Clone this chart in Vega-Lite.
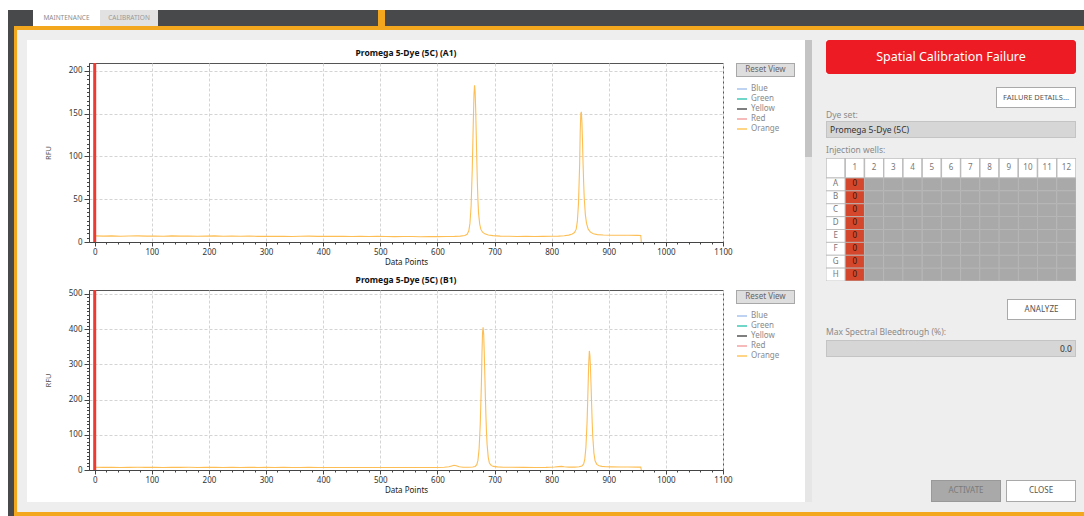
{
"$schema": "https://vega.github.io/schema/vega-lite/v6.json",
"padding": {"left": 8, "top": 10, "right": 0, "bottom": 0},
"background": "#ffffff",
"config": {"font": "Noto Sans", "view": {"stroke": null}, "concat": {"spacing": 0}},
"data": {"values": [{"k": 1}]},
"datasets": {
"a1": [{"dp":0,"rfu":7.2},{"dp":15,"rfu":6.9},{"dp":30,"rfu":7.1},{"dp":45,"rfu":6.8},{"dp":60,"rfu":7.0},{"dp":75,"rfu":7.2},{"dp":90,"rfu":6.9},{"dp":105,"rfu":7.0},{"dp":120,"rfu":6.8},{"dp":135,"rfu":7.1},{"dp":150,"rfu":6.9},{"dp":165,"rfu":7.0},{"dp":180,"rfu":6.7},{"dp":195,"rfu":6.9},{"dp":210,"rfu":7.1},{"dp":225,"rfu":6.8},{"dp":240,"rfu":6.9},{"dp":255,"rfu":6.7},{"dp":270,"rfu":6.9},{"dp":285,"rfu":6.6},{"dp":300,"rfu":6.8},{"dp":315,"rfu":6.6},{"dp":330,"rfu":6.8},{"dp":345,"rfu":6.5},{"dp":360,"rfu":6.7},{"dp":375,"rfu":6.9},{"dp":390,"rfu":6.6},{"dp":405,"rfu":6.8},{"dp":420,"rfu":6.6},{"dp":435,"rfu":6.7},{"dp":450,"rfu":6.5},{"dp":465,"rfu":6.7},{"dp":480,"rfu":6.4},{"dp":495,"rfu":6.6},{"dp":510,"rfu":6.5},{"dp":525,"rfu":6.3},{"dp":540,"rfu":6.5},{"dp":555,"rfu":6.4},{"dp":570,"rfu":6.2},{"dp":585,"rfu":6.4},{"dp":600,"rfu":6.3},{"dp":615,"rfu":6.5},{"dp":630,"rfu":6.6},{"dp":640,"rfu":6.9},{"dp":648,"rfu":7.6},{"dp":652,"rfu":9},{"dp":655,"rfu":13},{"dp":657,"rfu":22},{"dp":659,"rfu":42},{"dp":661,"rfu":85},{"dp":663,"rfu":145},{"dp":664,"rfu":172},{"dp":665,"rfu":183},{"dp":666,"rfu":176},{"dp":667,"rfu":155},{"dp":668,"rfu":125},{"dp":669,"rfu":95},{"dp":670,"rfu":68},{"dp":671,"rfu":48},{"dp":672,"rfu":34},{"dp":674,"rfu":21},{"dp":676,"rfu":15},{"dp":679,"rfu":11.5},{"dp":683,"rfu":9.5},{"dp":689,"rfu":8.2},{"dp":697,"rfu":7.4},{"dp":710,"rfu":6.9},{"dp":725,"rfu":6.7},{"dp":740,"rfu":6.5},{"dp":755,"rfu":6.6},{"dp":770,"rfu":6.4},{"dp":785,"rfu":6.6},{"dp":800,"rfu":6.7},{"dp":812,"rfu":6.9},{"dp":822,"rfu":7.3},{"dp":830,"rfu":8},{"dp":836,"rfu":9.3},{"dp":840,"rfu":11},{"dp":843,"rfu":15},{"dp":845,"rfu":24},{"dp":847,"rfu":45},{"dp":849,"rfu":90},{"dp":850,"rfu":128},{"dp":851,"rfu":150},{"dp":852,"rfu":152},{"dp":853,"rfu":140},{"dp":854,"rfu":118},{"dp":855,"rfu":92},{"dp":856,"rfu":70},{"dp":857,"rfu":52},{"dp":859,"rfu":32},{"dp":861,"rfu":22},{"dp":864,"rfu":15},{"dp":868,"rfu":11.5},{"dp":873,"rfu":9.6},{"dp":880,"rfu":8.6},{"dp":890,"rfu":8.1},{"dp":905,"rfu":7.9},{"dp":920,"rfu":7.8},{"dp":935,"rfu":7.9},{"dp":950,"rfu":7.7},{"dp":956,"rfu":7.6},{"dp":957,"rfu":0}],
"b1": [{"dp":0,"rfu":7.6},{"dp":15,"rfu":7.4},{"dp":30,"rfu":7.5},{"dp":45,"rfu":7.3},{"dp":60,"rfu":7.5},{"dp":75,"rfu":7.6},{"dp":90,"rfu":7.4},{"dp":105,"rfu":7.5},{"dp":120,"rfu":7.3},{"dp":135,"rfu":7.5},{"dp":150,"rfu":7.4},{"dp":165,"rfu":7.6},{"dp":180,"rfu":7.3},{"dp":195,"rfu":7.4},{"dp":210,"rfu":7.5},{"dp":225,"rfu":7.3},{"dp":240,"rfu":7.4},{"dp":255,"rfu":7.2},{"dp":270,"rfu":7.4},{"dp":285,"rfu":7.3},{"dp":300,"rfu":7.4},{"dp":315,"rfu":7.2},{"dp":330,"rfu":7.4},{"dp":345,"rfu":7.3},{"dp":360,"rfu":7.2},{"dp":375,"rfu":7.4},{"dp":390,"rfu":7.3},{"dp":405,"rfu":7.2},{"dp":420,"rfu":7.3},{"dp":435,"rfu":7.2},{"dp":450,"rfu":7.3},{"dp":465,"rfu":7.1},{"dp":480,"rfu":7.2},{"dp":495,"rfu":7.3},{"dp":510,"rfu":7.1},{"dp":525,"rfu":7.2},{"dp":540,"rfu":7.1},{"dp":555,"rfu":7.2},{"dp":570,"rfu":7.1},{"dp":585,"rfu":7.2},{"dp":600,"rfu":7.3},{"dp":612,"rfu":7.8},{"dp":620,"rfu":9},{"dp":625,"rfu":11.5},{"dp":629,"rfu":13.5},{"dp":633,"rfu":12},{"dp":638,"rfu":9},{"dp":645,"rfu":7.8},{"dp":655,"rfu":7.6},{"dp":662,"rfu":8.3},{"dp":666,"rfu":10},{"dp":669,"rfu":15},{"dp":671,"rfu":28},{"dp":673,"rfu":60},{"dp":675,"rfu":130},{"dp":677,"rfu":245},{"dp":678,"rfu":330},{"dp":679,"rfu":390},{"dp":680,"rfu":405},{"dp":681,"rfu":385},{"dp":682,"rfu":335},{"dp":683,"rfu":270},{"dp":684,"rfu":205},{"dp":685,"rfu":150},{"dp":686,"rfu":105},{"dp":687,"rfu":72},{"dp":689,"rfu":36},{"dp":691,"rfu":20},{"dp":694,"rfu":13},{"dp":698,"rfu":10.2},{"dp":705,"rfu":8.8},{"dp":715,"rfu":8},{"dp":730,"rfu":7.6},{"dp":750,"rfu":7.4},{"dp":770,"rfu":7.3},{"dp":790,"rfu":7.5},{"dp":805,"rfu":8.3},{"dp":812,"rfu":9.6},{"dp":817,"rfu":10.2},{"dp":822,"rfu":9.2},{"dp":830,"rfu":8.3},{"dp":840,"rfu":8.2},{"dp":848,"rfu":9.2},{"dp":853,"rfu":11.5},{"dp":856,"rfu":17},{"dp":858,"rfu":30},{"dp":860,"rfu":65},{"dp":862,"rfu":135},{"dp":863,"rfu":190},{"dp":864,"rfu":250},{"dp":865,"rfu":305},{"dp":866,"rfu":338},{"dp":867,"rfu":325},{"dp":868,"rfu":290},{"dp":869,"rfu":240},{"dp":870,"rfu":185},{"dp":871,"rfu":135},{"dp":872,"rfu":95},{"dp":874,"rfu":48},{"dp":876,"rfu":26},{"dp":879,"rfu":16},{"dp":883,"rfu":12},{"dp":888,"rfu":10.3},{"dp":895,"rfu":9.4},{"dp":905,"rfu":8.9},{"dp":920,"rfu":8.5},{"dp":935,"rfu":8.4},{"dp":950,"rfu":8.3},{"dp":956,"rfu":8.2},{"dp":957,"rfu":0}],
"dyes": [{"dye":"Blue"},{"dye":"Green"},{"dye":"Yellow"},{"dye":"Red"},{"dye":"Orange"}],
"hdr": [{"r":"h","col":"0","t":""},{"r":"h","col":"1","t":"1"},{"r":"h","col":"2","t":"2"},{"r":"h","col":"3","t":"3"},{"r":"h","col":"4","t":"4"},{"r":"h","col":"5","t":"5"},{"r":"h","col":"6","t":"6"},{"r":"h","col":"7","t":"7"},{"r":"h","col":"8","t":"8"},{"r":"h","col":"9","t":"9"},{"r":"h","col":"10","t":"10"},{"r":"h","col":"11","t":"11"},{"r":"h","col":"12","t":"12"}],
"wells": [
{"row":"A","col":"0","kind":"lbl","t":"A"},{"row":"A","col":"1","kind":"fail","t":"0"},{"row":"A","col":"2","kind":"none","t":""},{"row":"A","col":"3","kind":"none","t":""},{"row":"A","col":"4","kind":"none","t":""},{"row":"A","col":"5","kind":"none","t":""},{"row":"A","col":"6","kind":"none","t":""},{"row":"A","col":"7","kind":"none","t":""},{"row":"A","col":"8","kind":"none","t":""},{"row":"A","col":"9","kind":"none","t":""},{"row":"A","col":"10","kind":"none","t":""},{"row":"A","col":"11","kind":"none","t":""},{"row":"A","col":"12","kind":"none","t":""},
{"row":"B","col":"0","kind":"lbl","t":"B"},{"row":"B","col":"1","kind":"fail","t":"0"},{"row":"B","col":"2","kind":"none","t":""},{"row":"B","col":"3","kind":"none","t":""},{"row":"B","col":"4","kind":"none","t":""},{"row":"B","col":"5","kind":"none","t":""},{"row":"B","col":"6","kind":"none","t":""},{"row":"B","col":"7","kind":"none","t":""},{"row":"B","col":"8","kind":"none","t":""},{"row":"B","col":"9","kind":"none","t":""},{"row":"B","col":"10","kind":"none","t":""},{"row":"B","col":"11","kind":"none","t":""},{"row":"B","col":"12","kind":"none","t":""},
{"row":"C","col":"0","kind":"lbl","t":"C"},{"row":"C","col":"1","kind":"fail","t":"0"},{"row":"C","col":"2","kind":"none","t":""},{"row":"C","col":"3","kind":"none","t":""},{"row":"C","col":"4","kind":"none","t":""},{"row":"C","col":"5","kind":"none","t":""},{"row":"C","col":"6","kind":"none","t":""},{"row":"C","col":"7","kind":"none","t":""},{"row":"C","col":"8","kind":"none","t":""},{"row":"C","col":"9","kind":"none","t":""},{"row":"C","col":"10","kind":"none","t":""},{"row":"C","col":"11","kind":"none","t":""},{"row":"C","col":"12","kind":"none","t":""},
{"row":"D","col":"0","kind":"lbl","t":"D"},{"row":"D","col":"1","kind":"fail","t":"0"},{"row":"D","col":"2","kind":"none","t":""},{"row":"D","col":"3","kind":"none","t":""},{"row":"D","col":"4","kind":"none","t":""},{"row":"D","col":"5","kind":"none","t":""},{"row":"D","col":"6","kind":"none","t":""},{"row":"D","col":"7","kind":"none","t":""},{"row":"D","col":"8","kind":"none","t":""},{"row":"D","col":"9","kind":"none","t":""},{"row":"D","col":"10","kind":"none","t":""},{"row":"D","col":"11","kind":"none","t":""},{"row":"D","col":"12","kind":"none","t":""},
{"row":"E","col":"0","kind":"lbl","t":"E"},{"row":"E","col":"1","kind":"fail","t":"0"},{"row":"E","col":"2","kind":"none","t":""},{"row":"E","col":"3","kind":"none","t":""},{"row":"E","col":"4","kind":"none","t":""},{"row":"E","col":"5","kind":"none","t":""},{"row":"E","col":"6","kind":"none","t":""},{"row":"E","col":"7","kind":"none","t":""},{"row":"E","col":"8","kind":"none","t":""},{"row":"E","col":"9","kind":"none","t":""},{"row":"E","col":"10","kind":"none","t":""},{"row":"E","col":"11","kind":"none","t":""},{"row":"E","col":"12","kind":"none","t":""},
{"row":"F","col":"0","kind":"lbl","t":"F"},{"row":"F","col":"1","kind":"fail","t":"0"},{"row":"F","col":"2","kind":"none","t":""},{"row":"F","col":"3","kind":"none","t":""},{"row":"F","col":"4","kind":"none","t":""},{"row":"F","col":"5","kind":"none","t":""},{"row":"F","col":"6","kind":"none","t":""},{"row":"F","col":"7","kind":"none","t":""},{"row":"F","col":"8","kind":"none","t":""},{"row":"F","col":"9","kind":"none","t":""},{"row":"F","col":"10","kind":"none","t":""},{"row":"F","col":"11","kind":"none","t":""},{"row":"F","col":"12","kind":"none","t":""},
{"row":"G","col":"0","kind":"lbl","t":"G"},{"row":"G","col":"1","kind":"fail","t":"0"},{"row":"G","col":"2","kind":"none","t":""},{"row":"G","col":"3","kind":"none","t":""},{"row":"G","col":"4","kind":"none","t":""},{"row":"G","col":"5","kind":"none","t":""},{"row":"G","col":"6","kind":"none","t":""},{"row":"G","col":"7","kind":"none","t":""},{"row":"G","col":"8","kind":"none","t":""},{"row":"G","col":"9","kind":"none","t":""},{"row":"G","col":"10","kind":"none","t":""},{"row":"G","col":"11","kind":"none","t":""},{"row":"G","col":"12","kind":"none","t":""},
{"row":"H","col":"0","kind":"lbl","t":"H"},{"row":"H","col":"1","kind":"fail","t":"0"},{"row":"H","col":"2","kind":"none","t":""},{"row":"H","col":"3","kind":"none","t":""},{"row":"H","col":"4","kind":"none","t":""},{"row":"H","col":"5","kind":"none","t":""},{"row":"H","col":"6","kind":"none","t":""},{"row":"H","col":"7","kind":"none","t":""},{"row":"H","col":"8","kind":"none","t":""},{"row":"H","col":"9","kind":"none","t":""},{"row":"H","col":"10","kind":"none","t":""},{"row":"H","col":"11","kind":"none","t":""},{"row":"H","col":"12","kind":"none","t":""}
]
},
"spacing": 0,
"resolve": {"scale": {"color": "independent", "fill": "independent"}, "legend": {"color": "independent", "fill": "independent"}},
"vconcat": [
{"spacing": 0, "hconcat": [
 {"width": 25, "height": 16, "view": {"fill": "#48494a"}, "mark": {"type": "text", "text": "", "fontSize": 0}, "encoding": {}},
 {"width": 67, "height": 16, "view": {"fill": "#ffffff"}, "mark": {"type": "text", "text": "MAINTENANCE", "fontSize": 6.5, "color": "#8c8c8c"}, "encoding": {}},
 {"width": 58, "height": 16, "view": {"fill": "#e2e2e2"}, "mark": {"type": "text", "text": "CALIBRATION", "fontSize": 6.5, "color": "#999999"}, "encoding": {}},
 {"width": 220, "height": 16, "view": {"fill": "#48494a"}, "mark": {"type": "text", "text": "", "fontSize": 0}, "encoding": {}},
 {"width": 7, "height": 16, "view": {"fill": "#f3a71f"}, "mark": {"type": "text", "text": "", "fontSize": 0}, "encoding": {}},
 {"width": 699, "height": 16, "view": {"fill": "#48494a"}, "mark": {"type": "text", "text": "", "fontSize": 0}, "encoding": {}}
]},
{"spacing": 0, "resolve": {"scale": {"color": "independent", "fill": "independent"}, "legend": {"color": "independent", "fill": "independent"}}, "hconcat": [
 {"width": 6, "height": 490, "view": {"fill": "#48494a"}, "mark": {"type": "text", "text": "", "fontSize": 0}, "encoding": {}},
 {"width": 3, "height": 490, "view": {"fill": "#f3a71f"}, "mark": {"type": "text", "text": "", "fontSize": 0}, "encoding": {}},
 {"spacing": 0, "resolve": {"scale": {"color": "independent", "fill": "independent"}, "legend": {"color": "independent", "fill": "independent"}}, "vconcat": [
  {"width": 1067, "height": 4, "view": {"fill": "#f3a71f"}, "mark": {"type": "text", "text": "", "fontSize": 0}, "encoding": {}},
  {"spacing": 0, "resolve": {"scale": {"color": "independent", "fill": "independent"}, "legend": {"color": "independent", "fill": "independent"}}, "hconcat": [
   {"width": 10, "height": 482, "view": {"fill": "#eeeeee"}, "mark": {"type": "text", "text": "", "fontSize": 0}, "encoding": {}},
   {"spacing": 0, "resolve": {"scale": {"color": "independent"}, "legend": {"color": "independent"}}, "vconcat": [
    {"width": 778, "height": 10, "view": {"fill": "#eeeeee"}, "mark": {"type": "text", "text": "", "fontSize": 0}, "encoding": {}},
    {"spacing": 0, "resolve": {"scale": {"color": "independent"}, "legend": {"color": "independent"}}, "hconcat": [
     {"width": 16, "height": 462, "mark": {"type": "text", "text": "", "fontSize": 0}, "encoding": {}},
     {"spacing": 0, "resolve": {"scale": {"color": "independent"}, "legend": {"color": "independent"}}, "vconcat": [
      {"width": 1, "height": 8, "mark": {"type": "text", "text": "", "fontSize": 0}, "encoding": {}},
      {"spacing": 0, "resolve": {"scale": {"color": "independent"}, "legend": {"color": "independent"}}, "hconcat": [
       {"width": 634, "height": 179, "view": {"stroke": "#555555"},
        "title": {"text": "Promega 5-Dye (5C) (A1)", "fontSize": 8.5, "fontWeight": "bold", "color": "#111111", "offset": 4, "anchor": "middle", "frame": "group"},
        "data": {"name": "a1"},
        "layer": [
         {"mark": {"type": "line", "color": "#fdbf55", "strokeWidth": 1.1},
          "encoding": {
           "x": {"field": "dp", "type": "quantitative", "scale": {"domain": [-10, 1100], "nice": false, "zero": false},
                 "axis": {"values": [0,100,200,300,400,500,600,700,800,900,1000,1100], "format": "d", "title": "Data Points", "titleFontSize": 8, "titleFontWeight": "normal", "titleColor": "#222222", "titlePadding": 2, "labelFontSize": 8, "labelColor": "#333333", "labelPadding": 2, "labelFlush": false, "labelOverlap": false, "tickSize": 4, "tickColor": "#444444", "domainColor": "#444444", "grid": true, "gridColor": "#d4d4d4", "gridDash": [3, 2]}},
           "y": {"field": "rfu", "type": "quantitative", "scale": {"domain": [0, 209], "nice": false},
                 "axis": {"values": [0,50,100,150,200], "title": "RFU", "titleFontSize": 7.5, "titleFontWeight": "normal", "titleColor": "#555555", "titlePadding": 16, "labelFontSize": 8, "labelColor": "#333333", "labelPadding": 2, "labelOverlap": false, "tickSize": 5, "tickColor": "#444444", "domainColor": "#444444", "grid": true, "gridColor": "#d4d4d4", "gridDash": [3, 2]}}}},
         {"mark": {"type": "line", "opacity": 0},
          "encoding": {
           "x": {"field": "dp", "type": "quantitative", "axis": {"orient": "bottom", "values": [20,40,60,80,120,140,160,180,220,240,260,280,320,340,360,380,420,440,460,480,520,540,560,580,620,640,660,680,720,740,760,780,820,840,860,880,920,940,960,980,1020,1040,1060,1080], "labels": false, "title": null, "domain": false, "grid": false, "tickSize": 2, "tickColor": "#444444"}},
           "y": {"field": "rfu", "type": "quantitative", "axis": {"orient": "left", "values": [5,10,15,20,25,30,35,40,45,55,60,65,70,75,80,85,90,95,105,110,115,120,125,130,135,140,145,155,160,165,170,175,180,185,190,195,205], "labels": false, "title": null, "domain": false, "grid": false, "tickSize": 2.5, "tickColor": "#444444"}}}},
         {"data": {"values": [{"dp": 0}]}, "mark": {"type": "rule", "color": "#ee3b32", "strokeWidth": 3},
          "encoding": {"x": {"field": "dp", "type": "quantitative", "axis": null}}}
        ],
        "resolve": {"axis": {"x": "independent", "y": "independent"}}
       },
       {"spacing": 3, "resolve": {"scale": {"color": "independent"}, "legend": {"color": "independent"}}, "vconcat": [
        {"width": 59, "height": 14, "layer": [
         {"mark": {"type": "rect", "fill": "#dedede", "stroke": "#a8a8a8", "strokeWidth": 2, "clip": true}, "encoding": {}},
         {"mark": {"type": "text", "text": "Reset View", "fontSize": 8, "color": "#666666"}, "encoding": {}}]},
        {"width": 1, "height": 1, "data": {"name": "dyes"}, "mark": {"type": "point", "opacity": 0},
         "encoding": {"color": {"field": "dye", "type": "nominal", "scale": {"domain": ["Blue","Green","Yellow","Red","Orange"], "range": ["#a9c5ee","#40c9b5","#555555","#f5a3a3","#ffc65c"]},
          "legend": {"orient": "right", "offset": -1, "padding": 0, "title": null, "symbolType": "stroke", "symbolSize": 100, "symbolStrokeWidth": 1.5, "symbolOpacity": 1, "labelFontSize": 8, "labelColor": "#8a8a8a", "labelOffset": 3, "rowPadding": 0}}}}
       ]}
      ]},
      {"width": 1, "height": 8, "mark": {"type": "text", "text": "", "fontSize": 0}, "encoding": {}},
      {"spacing": 0, "resolve": {"scale": {"color": "independent"}, "legend": {"color": "independent"}}, "hconcat": [
       {"width": 634, "height": 180, "view": {"stroke": "#555555"},
        "title": {"text": "Promega 5-Dye (5C) (B1)", "fontSize": 8.5, "fontWeight": "bold", "color": "#111111", "offset": 4, "anchor": "middle", "frame": "group"},
        "data": {"name": "b1"},
        "layer": [
         {"mark": {"type": "line", "color": "#fdbf55", "strokeWidth": 1.1},
          "encoding": {
           "x": {"field": "dp", "type": "quantitative", "scale": {"domain": [-10, 1100], "nice": false, "zero": false},
                 "axis": {"values": [0,100,200,300,400,500,600,700,800,900,1000,1100], "format": "d", "title": "Data Points", "titleFontSize": 8, "titleFontWeight": "normal", "titleColor": "#222222", "titlePadding": 2, "labelFontSize": 8, "labelColor": "#333333", "labelPadding": 2, "labelFlush": false, "labelOverlap": false, "tickSize": 4, "tickColor": "#444444", "domainColor": "#444444", "grid": true, "gridColor": "#d4d4d4", "gridDash": [3, 2]}},
           "y": {"field": "rfu", "type": "quantitative", "scale": {"domain": [0, 511], "nice": false},
                 "axis": {"values": [0,100,200,300,400,500], "title": "RFU", "titleFontSize": 7.5, "titleFontWeight": "normal", "titleColor": "#555555", "titlePadding": 16, "labelFontSize": 8, "labelColor": "#333333", "labelPadding": 2, "labelOverlap": false, "tickSize": 5, "tickColor": "#444444", "domainColor": "#444444", "grid": true, "gridColor": "#d4d4d4", "gridDash": [3, 2]}}}},
         {"mark": {"type": "line", "opacity": 0},
          "encoding": {
           "x": {"field": "dp", "type": "quantitative", "axis": {"orient": "bottom", "values": [20,40,60,80,120,140,160,180,220,240,260,280,320,340,360,380,420,440,460,480,520,540,560,580,620,640,660,680,720,740,760,780,820,840,860,880,920,940,960,980,1020,1040,1060,1080], "labels": false, "title": null, "domain": false, "grid": false, "tickSize": 2, "tickColor": "#444444"}},
           "y": {"field": "rfu", "type": "quantitative", "axis": {"orient": "left", "values": [10,20,30,40,50,60,70,80,90,110,120,130,140,150,160,170,180,190,210,220,230,240,250,260,270,280,290,310,320,330,340,350,360,370,380,390,410,420,430,440,450,460,470,480,490], "labels": false, "title": null, "domain": false, "grid": false, "tickSize": 2.5, "tickColor": "#444444"}}}},
         {"data": {"values": [{"dp": 0}]}, "mark": {"type": "rule", "color": "#ee3b32", "strokeWidth": 3},
          "encoding": {"x": {"field": "dp", "type": "quantitative", "axis": null}}}
        ],
        "resolve": {"axis": {"x": "independent", "y": "independent"}}
       },
       {"spacing": 3, "resolve": {"scale": {"color": "independent"}, "legend": {"color": "independent"}}, "vconcat": [
        {"width": 59, "height": 14, "layer": [
         {"mark": {"type": "rect", "fill": "#dedede", "stroke": "#a8a8a8", "strokeWidth": 2, "clip": true}, "encoding": {}},
         {"mark": {"type": "text", "text": "Reset View", "fontSize": 8, "color": "#666666"}, "encoding": {}}]},
        {"width": 1, "height": 1, "data": {"name": "dyes"}, "mark": {"type": "point", "opacity": 0},
         "encoding": {"color": {"field": "dye", "type": "nominal", "scale": {"domain": ["Blue","Green","Yellow","Red","Orange"], "range": ["#a9c5ee","#40c9b5","#555555","#f5a3a3","#ffc65c"]},
          "legend": {"orient": "right", "offset": -1, "padding": 0, "title": null, "symbolType": "stroke", "symbolSize": 100, "symbolStrokeWidth": 1.5, "symbolOpacity": 1, "labelFontSize": 8, "labelColor": "#8a8a8a", "labelOffset": 3, "rowPadding": 0}}}}
       ]}
      ]}
     ]}
    ]},
    {"width": 778, "height": 10, "view": {"fill": "#eeeeee"}, "mark": {"type": "text", "text": "", "fontSize": 0}, "encoding": {}}
   ]},
   {"spacing": 0, "vconcat": [
    {"width": 7, "height": 10, "view": {"fill": "#eeeeee"}, "mark": {"type": "text", "text": "", "fontSize": 0}, "encoding": {}},
    {"width": 7, "height": 117, "view": {"fill": "#c4c4c4"}, "mark": {"type": "text", "text": "", "fontSize": 0}, "encoding": {}},
    {"width": 7, "height": 345, "view": {"fill": "#e6e6e6"}, "mark": {"type": "text", "text": "", "fontSize": 0}, "encoding": {}},
    {"width": 7, "height": 10, "view": {"fill": "#eeeeee"}, "mark": {"type": "text", "text": "", "fontSize": 0}, "encoding": {}}
   ]},
   {"spacing": 0, "resolve": {"scale": {"fill": "independent"}, "legend": {"fill": "independent"}}, "vconcat": [
    {"width": 272, "height": 10, "view": {"fill": "#eeeeee"}, "mark": {"type": "text", "text": "", "fontSize": 0}, "encoding": {}},
    {"spacing": 0, "hconcat": [
     {"width": 14, "height": 34, "view": {"fill": "#eeeeee"}, "mark": {"type": "text", "text": "", "fontSize": 0}, "encoding": {}},
     {"width": 250, "height": 34, "view": {"fill": "#ed1c24", "cornerRadius": 3}, "mark": {"type": "text", "text": "Spatial Calibration Failure", "fontSize": 12.5, "color": "#ffffff"}, "encoding": {}},
     {"width": 8, "height": 34, "view": {"fill": "#eeeeee"}, "mark": {"type": "text", "text": "", "fontSize": 0}, "encoding": {}}
    ]},
    {"width": 272, "height": 13, "view": {"fill": "#eeeeee"}, "mark": {"type": "text", "text": "", "fontSize": 0}, "encoding": {}},
    {"spacing": 0, "hconcat": [
     {"width": 184, "height": 21, "view": {"fill": "#eeeeee"}, "mark": {"type": "text", "text": "", "fontSize": 0}, "encoding": {}},
     {"width": 80, "height": 21, "layer": [
      {"mark": {"type": "rect", "fill": "#ffffff", "stroke": "#a9a9a9", "strokeWidth": 2, "clip": true}, "encoding": {}},
      {"mark": {"type": "text", "text": "FAILURE DETAILS...", "fontSize": 7.5, "color": "#555555"}, "encoding": {}}]},
     {"width": 8, "height": 21, "view": {"fill": "#eeeeee"}, "mark": {"type": "text", "text": "", "fontSize": 0}, "encoding": {}}
    ]},
    {"spacing": 0, "hconcat": [
     {"width": 14, "height": 13, "view": {"fill": "#eeeeee"}, "mark": {"type": "text", "text": "", "fontSize": 0}, "encoding": {}},
     {"width": 258, "height": 13, "view": {"fill": "#eeeeee"}, "mark": {"type": "text", "text": "Dye set:", "align": "left", "fontSize": 8.5, "color": "#8a8a8a"}, "encoding": {"x": {"datum": "p", "type": "nominal", "scale": {"type": "point", "align": 0, "padding": 0}, "axis": null}}}
    ]},
    {"spacing": 0, "hconcat": [
     {"width": 14, "height": 17, "view": {"fill": "#eeeeee"}, "mark": {"type": "text", "text": "", "fontSize": 0}, "encoding": {}},
     {"width": 250, "height": 17, "layer": [
      {"mark": {"type": "rect", "fill": "#d6d6d6", "stroke": "#c4c4c4", "strokeWidth": 2, "clip": true}, "encoding": {}},
      {"mark": {"type": "text", "text": "Promega 5-Dye (5C)", "align": "left", "dx": 4, "fontSize": 8.5, "color": "#333333"}, "encoding": {"x": {"datum": "p", "type": "nominal", "scale": {"type": "point", "align": 0, "padding": 0}, "axis": null}}}]},
     {"width": 8, "height": 17, "view": {"fill": "#eeeeee"}, "mark": {"type": "text", "text": "", "fontSize": 0}, "encoding": {}}
    ]},
    {"width": 272, "height": 4, "view": {"fill": "#eeeeee"}, "mark": {"type": "text", "text": "", "fontSize": 0}, "encoding": {}},
    {"spacing": 0, "hconcat": [
     {"width": 14, "height": 16, "view": {"fill": "#eeeeee"}, "mark": {"type": "text", "text": "", "fontSize": 0}, "encoding": {}},
     {"width": 258, "height": 16, "view": {"fill": "#eeeeee"}, "mark": {"type": "text", "text": "Injection wells:", "align": "left", "fontSize": 8.5, "color": "#8a8a8a"}, "encoding": {"x": {"datum": "p", "type": "nominal", "scale": {"type": "point", "align": 0, "padding": 0}, "axis": null}}}
    ]},
    {"spacing": 0, "hconcat": [
     {"width": 14, "height": 123, "view": {"fill": "#eeeeee"}, "mark": {"type": "text", "text": "", "fontSize": 0}, "encoding": {}},
     {"spacing": 0, "vconcat": [
      {"width": 250, "height": 20, "data": {"name": "hdr"},
       "encoding": {"x": {"field": "col", "type": "ordinal", "scale": {"domain": ["0","1","2","3","4","5","6","7","8","9","10","11","12"], "paddingInner": 0, "paddingOuter": 0}, "axis": null},
                    "y": {"field": "r", "type": "nominal", "scale": {"paddingInner": 0, "paddingOuter": 0}, "axis": null}},
       "layer": [
        {"mark": {"type": "rect", "fill": "#ffffff", "stroke": "#bcbcbc", "strokeWidth": 1.4, "clip": true}},
        {"mark": {"type": "text", "fontSize": 8, "color": "#777777"}, "encoding": {"text": {"field": "t"}}}
       ]},
      {"width": 250, "height": 103, "data": {"name": "wells"},
       "encoding": {"x": {"field": "col", "type": "ordinal", "scale": {"domain": ["0","1","2","3","4","5","6","7","8","9","10","11","12"], "paddingInner": 0, "paddingOuter": 0}, "axis": null},
                    "y": {"field": "row", "type": "nominal", "scale": {"domain": ["A","B","C","D","E","F","G","H"], "paddingInner": 0, "paddingOuter": 0}, "axis": null}},
       "layer": [
        {"mark": {"type": "rect", "stroke": "#b8b8b8", "strokeWidth": 0.8, "clip": true},
         "encoding": {"fill": {"field": "kind", "type": "nominal", "scale": {"domain": ["lbl","fail","none"], "range": ["#ffffff","#d5472c","#a9a9a9"]}, "legend": null}}},
        {"mark": {"type": "text", "fontSize": 8},
         "encoding": {"text": {"field": "t"}, "color": {"condition": {"test": "datum.kind === 'lbl'", "value": "#777777"}, "value": "#3a1408"}}}
       ]}
     ]},
     {"width": 8, "height": 123, "view": {"fill": "#eeeeee"}, "mark": {"type": "text", "text": "", "fontSize": 0}, "encoding": {}}
    ]},
    {"width": 272, "height": 18, "view": {"fill": "#eeeeee"}, "mark": {"type": "text", "text": "", "fontSize": 0}, "encoding": {}},
    {"spacing": 0, "hconcat": [
     {"width": 195, "height": 21, "view": {"fill": "#eeeeee"}, "mark": {"type": "text", "text": "", "fontSize": 0}, "encoding": {}},
     {"width": 69, "height": 21, "layer": [
      {"mark": {"type": "rect", "fill": "#ffffff", "stroke": "#a9a9a9", "strokeWidth": 2, "clip": true}, "encoding": {}},
      {"mark": {"type": "text", "text": "ANALYZE", "fontSize": 8, "color": "#555555"}, "encoding": {}}]},
     {"width": 8, "height": 21, "view": {"fill": "#eeeeee"}, "mark": {"type": "text", "text": "", "fontSize": 0}, "encoding": {}}
    ]},
    {"width": 272, "height": 3, "view": {"fill": "#eeeeee"}, "mark": {"type": "text", "text": "", "fontSize": 0}, "encoding": {}},
    {"spacing": 0, "hconcat": [
     {"width": 14, "height": 17, "view": {"fill": "#eeeeee"}, "mark": {"type": "text", "text": "", "fontSize": 0}, "encoding": {}},
     {"width": 258, "height": 17, "view": {"fill": "#eeeeee"}, "mark": {"type": "text", "text": "Max Spectral Bleedtrough (%):", "align": "left", "fontSize": 8.5, "color": "#8a8a8a"}, "encoding": {"x": {"datum": "p", "type": "nominal", "scale": {"type": "point", "align": 0, "padding": 0}, "axis": null}}}
    ]},
    {"spacing": 0, "hconcat": [
     {"width": 14, "height": 17, "view": {"fill": "#eeeeee"}, "mark": {"type": "text", "text": "", "fontSize": 0}, "encoding": {}},
     {"width": 250, "height": 17, "layer": [
      {"mark": {"type": "rect", "fill": "#d6d6d6", "stroke": "#c4c4c4", "strokeWidth": 2, "clip": true}, "encoding": {}},
      {"mark": {"type": "text", "text": "0.0", "align": "right", "dx": -4, "fontSize": 8.5, "color": "#333333"}, "encoding": {"x": {"datum": "p", "type": "nominal", "scale": {"type": "point", "align": 1, "padding": 0}, "axis": null}}}]},
     {"width": 8, "height": 17, "view": {"fill": "#eeeeee"}, "mark": {"type": "text", "text": "", "fontSize": 0}, "encoding": {}}
    ]},
    {"width": 272, "height": 123, "view": {"fill": "#eeeeee"}, "mark": {"type": "text", "text": "", "fontSize": 0}, "encoding": {}},
    {"spacing": 0, "hconcat": [
     {"width": 119, "height": 22, "view": {"fill": "#eeeeee"}, "mark": {"type": "text", "text": "", "fontSize": 0}, "encoding": {}},
     {"width": 70, "height": 22, "layer": [
      {"mark": {"type": "rect", "fill": "#a9a9a9", "stroke": "#999999", "strokeWidth": 2, "clip": true}, "encoding": {}},
      {"mark": {"type": "text", "text": "ACTIVATE", "fontSize": 8, "color": "#7a7a7a"}, "encoding": {}}]},
     {"width": 5, "height": 22, "view": {"fill": "#eeeeee"}, "mark": {"type": "text", "text": "", "fontSize": 0}, "encoding": {}},
     {"width": 70, "height": 22, "layer": [
      {"mark": {"type": "rect", "fill": "#ffffff", "stroke": "#a9a9a9", "strokeWidth": 2, "clip": true}, "encoding": {}},
      {"mark": {"type": "text", "text": "CLOSE", "fontSize": 8, "color": "#555555"}, "encoding": {}}]},
     {"width": 8, "height": 22, "view": {"fill": "#eeeeee"}, "mark": {"type": "text", "text": "", "fontSize": 0}, "encoding": {}}
    ]},
    {"width": 272, "height": 10, "view": {"fill": "#eeeeee"}, "mark": {"type": "text", "text": "", "fontSize": 0}, "encoding": {}}
   ]}
  ]},
  {"width": 1067, "height": 4, "view": {"fill": "#f3a71f"}, "mark": {"type": "text", "text": "", "fontSize": 0}, "encoding": {}}
 ]}
]}
]
}
